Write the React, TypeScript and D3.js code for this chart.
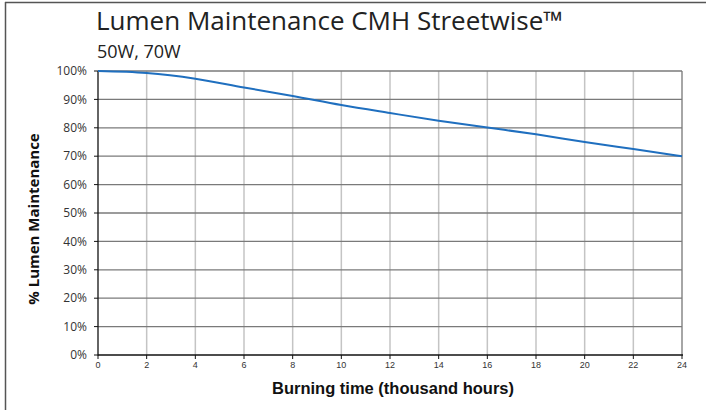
import React from 'react';
import * as d3 from 'd3';

const hours = [0, 2, 4, 6, 8, 10, 12, 14, 16, 18, 20, 22, 24];
const maintenance = [100, 99.3, 97.3, 94.2, 91.2, 88, 85.2, 82.5, 80.1, 77.7, 75, 72.5, 70];
const xTicks = [0, 2, 4, 6, 8, 10, 12, 14, 16, 18, 20, 22, 24];
const yTicks = [0, 10, 20, 30, 40, 50, 60, 70, 80, 90, 100];

const width = 706;
const height = 410;
const margin = { left: 98, right: 24, top: 71, bottom: 55 };

export default function App() {
    const x = d3.scaleLinear().domain([0, 24]).range([margin.left, width - margin.right]);
    const y = d3.scaleLinear().domain([0, 100]).range([height - margin.bottom, margin.top]);

    const points = hours.map((h, i) => [h, maintenance[i]] as [number, number]);
    const line = d3
        .line<[number, number]>()
        .x((d) => x(d[0]))
        .y((d) => y(d[1]))
        .curve(d3.curveMonotoneX);

    const x0 = x(0);
    const x1 = x(24);
    const y0 = y(0);
    const y1 = y(100);

    return (
        <svg width={width} height={height} style={{ position: 'absolute', left: 0, top: 0 }}>
            <rect x={0} y={0} width={width} height={height} fill="#fff" />
            {/* outer frame (cropped on right/bottom) */}
            <line x1={5} y1={2.5} x2={width} y2={2.5} stroke="#555" strokeWidth={1.5} />
            <line x1={5.5} y1={2} x2={5.5} y2={height} stroke="#555" strokeWidth={1.5} />

            <text x={96} y={30} fontFamily="'Open Sans', sans-serif" fontSize={26} fill="#222">
                Lumen Maintenance CMH Streetwise™
            </text>
            <text x={97} y={58} fontFamily="'Open Sans', sans-serif" fontSize={18} fill="#222">
                50W, 70W
            </text>

            {/* vertical grid */}
            {xTicks.slice(1).map((t) => (
                <line key={'vx' + t} x1={x(t)} x2={x(t)} y1={y1} y2={y0}
                    stroke={t === 24 ? '#888' : '#c4c4c4'} strokeWidth={1.5} />
            ))}
            {/* horizontal grid */}
            {yTicks.slice(1).map((t) => (
                <line key={'hy' + t} x1={x0} x2={x1} y1={y(t)} y2={y(t)} stroke="#7a7a7a" strokeWidth={1.3} />
            ))}

            {/* axes */}
            <line x1={x0} x2={x0} y1={y1} y2={y0 + 0.5} stroke="#111" strokeWidth={1.3} />
            <line x1={x0} x2={x1 + 1} y1={y0} y2={y0} stroke="#111" strokeWidth={1.3} />
            {yTicks.map((t) => (
                <g key={'yt' + t}>
                    <line x1={x0 - 4} x2={x0} y1={y(t)} y2={y(t)} stroke="#111" strokeWidth={1} />
                    <text x={x0 - 11} y={y(t)} dy="0.35em" textAnchor="end"
                        fontFamily="'Open Sans', sans-serif" fontSize={12} fill="#333">
                        {t}%
                    </text>
                </g>
            ))}
            {xTicks.map((t) => (
                <g key={'xt' + t}>
                    <line x1={x(t)} x2={x(t)} y1={y0} y2={y0 + 4} stroke="#111" strokeWidth={1} />
                    <text x={x(t)} y={y0 + 13} textAnchor="middle"
                        fontFamily="'Liberation Sans', Arial, sans-serif" fontSize={9} fill="#333">
                        {t}
                    </text>
                </g>
            ))}

            <path d={line(points) ?? ''} fill="none" stroke="#1f6fbf" strokeWidth={2} />

            <text x={393} y={394} textAnchor="middle" fontFamily="'Liberation Sans', Arial, sans-serif"
                fontWeight="bold" fontSize={16.5} fill="#111">
                Burning time (thousand hours)
            </text>
            <text transform={`translate(39, 219) rotate(-90)`} textAnchor="middle"
                fontFamily="'Open Sans', sans-serif" fontWeight="bold" fontSize={15} fill="#111">
                % Lumen Maintenance
            </text>
        </svg>
    );
}
